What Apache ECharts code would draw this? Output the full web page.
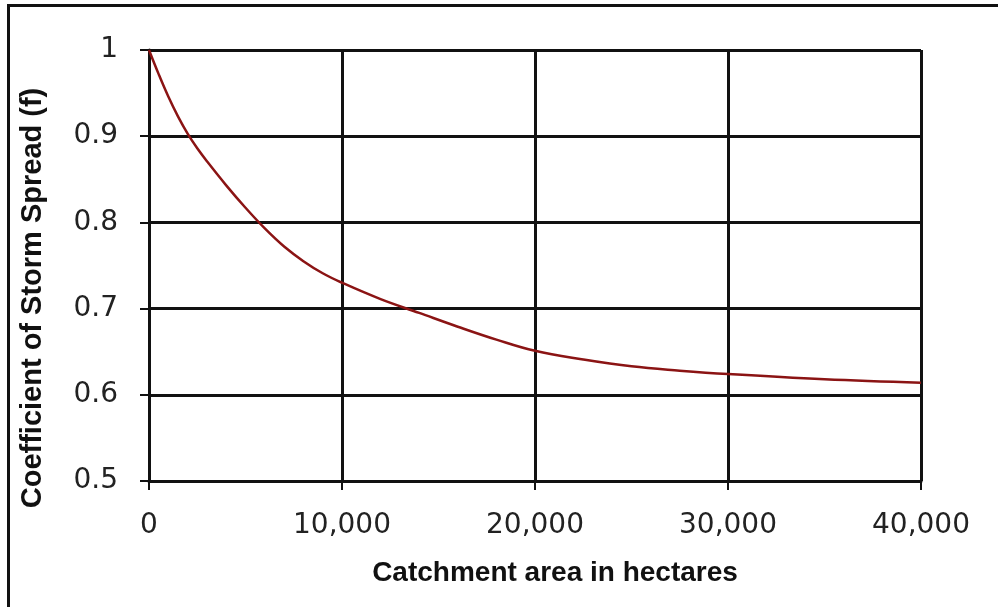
<!DOCTYPE html>
<html>
<head>
<meta charset="utf-8">
<script src="https://cdn.jsdelivr.net/npm/echarts@6/dist/echarts.min.js"></script>
<style>
  html, body { margin: 0; padding: 0; background: #fff; }
  #chart { width: 998px; height: 607px; }
</style>
</head>
<body>
<div id="chart"></div>
<script>
const areaHectares = [0, 500, 1000, 1500, 2000, 2500, 3000, 4000, 5000, 6000, 7000, 8000, 9000, 10000, 12000, 14000, 16000, 18000, 20000, 22500, 25000, 27500, 30000, 35000, 40000];
const stormSpreadCoef = [1.0, 0.972, 0.946, 0.923, 0.903, 0.886, 0.871, 0.843, 0.817, 0.793, 0.772, 0.755, 0.741, 0.730, 0.711, 0.695, 0.679, 0.664, 0.651, 0.641, 0.633, 0.628, 0.624, 0.618, 0.614];
const xTitle = 'Catchment area in hectares';
const yTitle = 'Coefficient of Storm Spread (f)';

const chart = echarts.init(document.getElementById('chart'), null, { renderer: 'canvas' });
const lineData = areaHectares.map((a, i) => [a, stormSpreadCoef[i]]);

chart.setOption({
  animation: false,
  backgroundColor: '#ffffff',
  grid: { left: 149, top: 50, right: 77, bottom: 126, containLabel: false },
  xAxis: {
    type: 'value', min: 0, max: 40000, interval: 10000,
    axisLine: { show: true, lineStyle: { color: '#111', width: 3 } },
    axisTick: { show: true, inside: false, length: 9, lineStyle: { color: '#111', width: 2 } },
    axisLabel: {
      margin: 31, fontFamily: 'DejaVu Sans, sans-serif', fontSize: 28, color: '#222',
      formatter: v => v === 0 ? '0' : v.toLocaleString('en-US')
    },
    splitLine: { show: true, lineStyle: { color: '#111', width: 3 } }
  },
  yAxis: {
    type: 'value', min: 0.5, max: 1, interval: 0.1,
    axisLine: { show: true, lineStyle: { color: '#111', width: 3 } },
    axisTick: { show: true, inside: false, length: 9, lineStyle: { color: '#111', width: 2 } },
    axisLabel: {
      margin: 31, fontFamily: 'DejaVu Sans, sans-serif', fontSize: 28, color: '#222',
      formatter: v => (Math.round(v * 10) / 10 === 1 ? '1' : (Math.round(v * 10) / 10).toString())
    },
    splitLine: { show: true, lineStyle: { color: '#111', width: 3 } }
  },
  series: [{
    type: 'line', data: lineData, smooth: 0.4, showSymbol: false, symbol: 'none',
    lineStyle: { color: '#8b1414', width: 2.5 }, z: 5
  }],
  graphic: [
    {
      type: 'rect', silent: true, z: 100,
      shape: { x: 8.5, y: 5.5, width: 1200, height: 800 },
      style: { fill: 'none', stroke: '#111', lineWidth: 3 }
    },
    {
      type: 'text', silent: true, z: 100,
      x: 555, y: 573,
      style: {
        text: xTitle, fontFamily: 'Liberation Sans, Arial, sans-serif', fontWeight: 'bold', fontSize: 28,
        fill: '#111', align: 'center', verticalAlign: 'middle'
      }
    },
    {
      type: 'text', silent: true, z: 100,
      x: 33, y: 298, rotation: Math.PI / 2,
      style: {
        text: yTitle, fontFamily: 'Liberation Sans, Arial, sans-serif', fontWeight: 'bold', fontSize: 29,
        fill: '#111', align: 'center', verticalAlign: 'middle'
      }
    }
  ]
});
</script>
</body>
</html>
